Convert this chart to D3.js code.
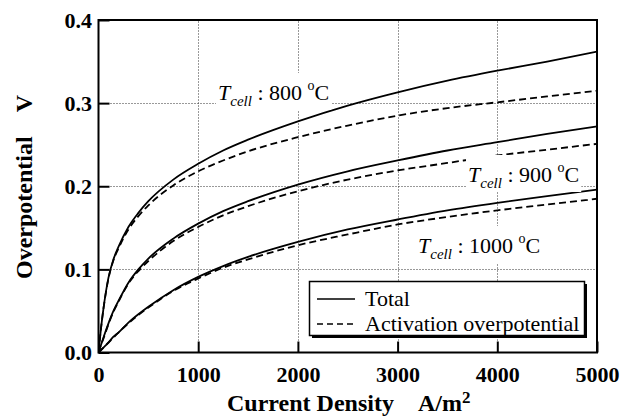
<!DOCTYPE html>
<html>
<head>
<meta charset="utf-8">
<script src="https://cdn.jsdelivr.net/npm/d3@7"></script>
<style>
  html, body { margin: 0; padding: 0; background: #fff; }
  svg { display: block; }
  svg text { font-family: 'Liberation Serif', 'Times New Roman', Times, 'DejaVu Serif', serif; }
</style>
</head>
<body>
<svg id="chart" width="635" height="418"></svg>
<script>
// Current density (A/m^2) at which the overpotentials are sampled
const currentDensity = [0, 25, 50, 100, 150, 200, 300, 400, 500, 750, 1000, 1250, 1500, 2000, 2500, 3000, 3500, 4000, 4500, 5000];

// Overpotential (V): total and activation part, per cell temperature
const total800 = [0, 0.029, 0.053, 0.090, 0.112, 0.127, 0.151, 0.168, 0.182, 0.208, 0.227, 0.243, 0.256, 0.278, 0.297, 0.313, 0.327, 0.339, 0.350, 0.362];
const act800   = [0, 0.029, 0.053, 0.089, 0.111, 0.125, 0.148, 0.164, 0.177, 0.201, 0.218, 0.231, 0.242, 0.259, 0.273, 0.285, 0.294, 0.301, 0.308, 0.315];
const total900 = [0, 0.009, 0.018, 0.035, 0.050, 0.062, 0.084, 0.100, 0.113, 0.137, 0.155, 0.170, 0.182, 0.202, 0.218, 0.231, 0.243, 0.253, 0.263, 0.272];
const act900   = [0, 0.009, 0.017, 0.034, 0.049, 0.061, 0.083, 0.098, 0.110, 0.134, 0.151, 0.165, 0.176, 0.194, 0.208, 0.219, 0.228, 0.237, 0.244, 0.251];
const total1000 = [0, 0.003, 0.006, 0.012, 0.019, 0.024, 0.036, 0.046, 0.055, 0.075, 0.091, 0.104, 0.115, 0.133, 0.148, 0.160, 0.171, 0.180, 0.188, 0.196];
const act1000   = [0, 0.003, 0.006, 0.012, 0.018, 0.024, 0.035, 0.045, 0.054, 0.074, 0.089, 0.102, 0.112, 0.129, 0.142, 0.154, 0.163, 0.171, 0.178, 0.185];

const xTicks = [0, 1000, 2000, 3000, 4000, 5000];
const yTicks = [0.0, 0.1, 0.2, 0.3, 0.4];
const xGrid = [1000, 2000, 3000, 4000];
const yGrid = [0.1, 0.2, 0.3];

const tempLabels = ["800", "900", "1000"];
const legendNames = ["Total", "Activation overpotential"];

const SERIF = "'Liberation Serif', 'Times New Roman', Times, 'DejaVu Serif', serif";

const svg = d3.select("#chart");
const x = d3.scaleLinear().domain([0, 5000]).range([98.5, 597]);
const y = d3.scaleLinear().domain([0, 0.4]).range([352.5, 20]);

// grid
const grid = svg.append("g").attr("stroke", "#333").attr("stroke-width", 1).attr("stroke-dasharray", "1,2");
grid.selectAll(".gx").data(xGrid).join("line")
  .attr("x1", d => Math.round(x(d)) + 0.5).attr("x2", d => Math.round(x(d)) + 0.5)
  .attr("y1", y(0)).attr("y2", y(0.4));
grid.selectAll(".gy").data(yGrid).join("line")
  .attr("y1", d => Math.round(y(d)) + 0.5).attr("y2", d => Math.round(y(d)) + 0.5)
  .attr("x1", x(0)).attr("x2", x(5000));

// curves
svg.append("clipPath").attr("id", "plotClip").append("rect")
  .attr("x", x(0)).attr("y", y(0.4)).attr("width", x(5000) - x(0)).attr("height", y(0) - y(0.4));

const line = d3.line()
  .x((d, i) => x(currentDensity[i]))
  .y(d => y(d))
  .curve(d3.curveMonotoneX);

const series = [
  { v: total800, dash: null }, { v: act800, dash: "7,4" },
  { v: total900, dash: null }, { v: act900, dash: "7,4" },
  { v: total1000, dash: null }, { v: act1000, dash: "7,4" }
];
svg.append("g").attr("clip-path", "url(#plotClip)")
  .selectAll("path").data(series).join("path")
  .attr("d", d => line(d.v))
  .attr("fill", "none").attr("stroke", "#000").attr("stroke-width", 1.8)
  .attr("stroke-dasharray", d => d.dash);

// temperature annotations on white backing
const annot = [
  { t: tempLabels[0], x: 218, y: 100 },
  { t: tempLabels[1], x: 468, y: 182 },
  { t: tempLabels[2], x: 418, y: 253 }
];
annot.forEach(a => {
  const g = svg.append("g");
  const bg = g.append("rect").attr("fill", "#fff");
  const txt = g.append("text").attr("x", a.x).attr("y", a.y)
    .attr("font-family", SERIF).attr("font-size", 22).attr("fill", "#000");
  txt.append("tspan").attr("font-style", "italic").text("T");
  txt.append("tspan").attr("font-style", "italic").attr("font-size", 15).attr("dy", 6).text("cell");
  txt.append("tspan").attr("dy", -6).text(" : " + a.t + " ");
  txt.append("tspan").attr("font-size", 14).attr("dy", -10).text("o");
  txt.append("tspan").attr("dy", 10).text("C");
  const bb = txt.node().getBBox();
  bg.attr("x", bb.x - 2).attr("width", bb.width + 4).attr("y", a.y - 27).attr("height", 37);
});

// legend
const lg = svg.append("g");
lg.append("rect").attr("x", 312).attr("y", 284).attr("width", 275).attr("height", 54).attr("fill", "#000");
lg.append("rect").attr("x", 309.5).attr("y", 281.5).attr("width", 275).attr("height", 54)
  .attr("fill", "#fff").attr("stroke", "#000").attr("stroke-width", 1.5);
legendNames.forEach((name, i) => {
  const ly = 299 + i * 25;
  lg.append("line").attr("x1", 317).attr("x2", 355).attr("y1", ly).attr("y2", ly)
    .attr("stroke", "#000").attr("stroke-width", 1.5).attr("stroke-dasharray", i ? "6,4" : null);
  lg.append("text").attr("x", 365).attr("y", ly + 7)
    .attr("font-family", SERIF).attr("font-size", 22).text(name);
});

// axes (inward ticks)
const xAxis = d3.axisBottom(x).tickValues(xTicks).tickSizeInner(-11).tickSizeOuter(0).tickPadding(14).tickFormat(d3.format("d"));
const yAxis = d3.axisLeft(y).tickValues(yTicks).tickSizeInner(-11).tickSizeOuter(0).tickPadding(6.5).tickFormat(d3.format(".1f"));

const gx = svg.append("g").attr("transform", `translate(0,${y(0)})`).call(xAxis);
const gy = svg.append("g").attr("transform", `translate(${x(0)},0)`).call(yAxis);
[gx, gy].forEach(g => {
  g.attr("font-family", SERIF);
  g.select(".domain").remove();
  g.selectAll(".tick line").attr("stroke", "#000").attr("stroke-width", 2);
  g.selectAll(".tick text").attr("font-family", SERIF)
    .attr("font-size", 22).attr("font-weight", "bold").attr("fill", "#000");
});

// frame
svg.append("rect").attr("x", x(0)).attr("y", y(0.4)).attr("width", x(5000) - x(0)).attr("height", y(0) - y(0.4))
  .attr("fill", "none").attr("stroke", "#000").attr("stroke-width", 2);

// axis titles
const xt = svg.append("text").attr("x", 227).attr("y", 411)
  .attr("font-family", SERIF).attr("font-size", 24).attr("font-weight", "bold");
xt.append("tspan").text("Current Density\u2002\u2002A/m");
xt.append("tspan").attr("font-size", 17).attr("dy", -8).text("2");

svg.append("text").attr("transform", "translate(32,187) rotate(-90)")
  .attr("text-anchor", "middle").attr("font-family", SERIF).attr("font-size", 24).attr("font-weight", "bold")
  .text("Overpotential\u2002\u2002V");
</script>
</body>
</html>
